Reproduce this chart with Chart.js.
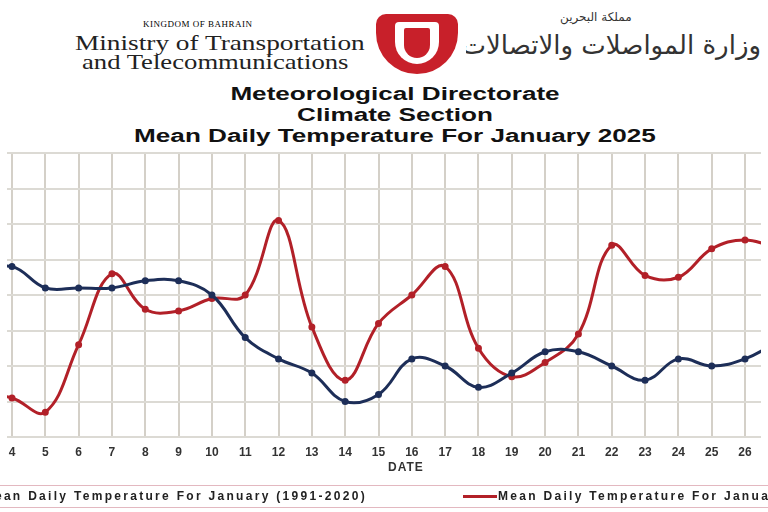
<!DOCTYPE html>
<html><head><meta charset="utf-8">
<script src="https://cdn.jsdelivr.net/npm/chart.js@4/dist/chart.umd.min.js"></script>
<style>
body{margin:0;width:768px;height:512px;overflow:hidden;background:#fff;position:relative;font-family:"Liberation Sans",Arial,sans-serif}
#c{position:absolute;left:0;top:0}
.a{position:absolute;white-space:nowrap}
</style></head><body>
<div class="a" style="left:143px;top:19px;font:9px 'Liberation Serif',serif;letter-spacing:0.5px">KINGDOM OF BAHRAIN</div>
<div class="a" style="left:75px;top:31px;font:21px 'Liberation Serif',serif;color:#222;transform:scaleX(1.3);transform-origin:left">Ministry of Transportation</div>
<div class="a" style="left:82px;top:50px;font:21px 'Liberation Serif',serif;color:#222;transform:scaleX(1.27);transform-origin:left">and Telecommunications</div>
<div class="a" style="left:376px;top:14px;width:82px;height:60px;background:#c8202a;border-radius:10px 10px 41px 41px"></div>
<div class="a" style="left:395px;top:22px;width:44px;height:42px;background:#fff;border-radius:4px 4px 22px 22px"></div>
<div class="a" style="left:404px;top:28px;width:26px;height:30px;background:#c8202a;border-radius:2px 2px 13px 13px"></div>
<div class="a" style="left:560px;top:10px;font:12px 'DejaVu Sans',sans-serif;color:#333" dir="rtl">مملكة البحرين</div>
<div class="a" style="left:466px;top:30px;width:295px;overflow:hidden;text-align:right;font:26px 'DejaVu Sans',sans-serif;color:#333" dir="rtl">وزارة المواصلات والاتصالات</div>
<div class="a" style="left:0;width:790px;top:84px;text-align:center;font:bold 18px 'Liberation Sans',Arial;line-height:21px;color:#111">
<div style="transform:scaleX(1.45)">Meteorological Directorate</div><div style="transform:scaleX(1.45)">Climate Section</div><div style="transform:scaleX(1.45)">Mean Daily Temperature For January 2025</div></div>
<canvas id="c" width="768" height="512"></canvas>
<div class="a" style="left:388px;top:460px;font:bold 12px 'Liberation Sans',Arial;color:#333;letter-spacing:1px">DATE</div>
<div class="a" style="left:-2px;top:485px;width:772px;height:21px;border-top:1px solid #e3b8c0;border-bottom:1px solid #e3b8c0"></div>
<div class="a" style="right:401px;top:487px;font:bold 12px 'Liberation Sans',Arial;letter-spacing:2.3px;color:#222;line-height:18px">Mean Daily Temperature For January (1991-2020)</div>
<div class="a" style="left:463px;top:495px;width:34px;height:3px;background:#b22028"></div>
<div class="a" style="left:498px;top:487px;font:bold 12px 'Liberation Sans',Arial;letter-spacing:2.3px;color:#222;line-height:18px">Mean Daily Temperature For January 2025</div>
<script>
const days=[3,4,5,6,7,8,9,10,11,12,13,14,15,16,17,18,19,20,21,22,23,24,25,26,27];
const normal=[16.6,16.8,16.2,16.2,16.2,16.4,16.4,16.0,14.8,14.2,13.8,13.0,13.2,14.2,14.0,13.4,13.8,14.4,14.4,14.0,13.6,14.2,14.0,14.2,14.7];
const y2025=[13.2,13.1,12.7,14.6,16.6,15.6,15.55,15.9,16.0,18.1,15.1,13.6,15.2,16.0,16.8,14.5,13.7,14.1,14.9,17.4,16.55,16.5,17.3,17.55,17.3];
const mk=(v)=>days.map((d,i)=>({x:d,y:v[i]}));
new Chart(document.getElementById('c'),{type:'line',
data:{datasets:[
{data:mk(normal),borderColor:'#1d2e58',backgroundColor:'#1d2e58',borderWidth:3,pointRadius:2,tension:0.4},
{data:mk(y2025),borderColor:'#b22028',backgroundColor:'#b22028',borderWidth:3,pointRadius:2,tension:0.4}]},
options:{responsive:false,animation:false,layout:{padding:{top:153,bottom:47,left:0,right:0}},
plugins:{legend:{display:false},tooltip:{enabled:false}},
scales:{
x:{type:'linear',min:3.85,max:26.48,afterFit:s=>{s.height=28},border:{display:false},
 grid:{color:'#d4d0c8',lineWidth:2,drawTicks:false},
 ticks:{stepSize:1,padding:8,color:'#333',font:{weight:'bold',size:12,family:'Liberation Sans'},callback:v=>Number.isInteger(v)?v:''},
 afterBuildTicks:s=>{s.ticks=days.filter(d=>d>=4&&d<=26).map(d=>({value:d}))}},
y:{min:12,max:20,afterFit:s=>{s.width=0},border:{display:false},
 grid:{color:'#dcdad4',lineWidth:2,drawTicks:false},ticks:{display:false,stepSize:1}}}}});
</script>
</body></html>
